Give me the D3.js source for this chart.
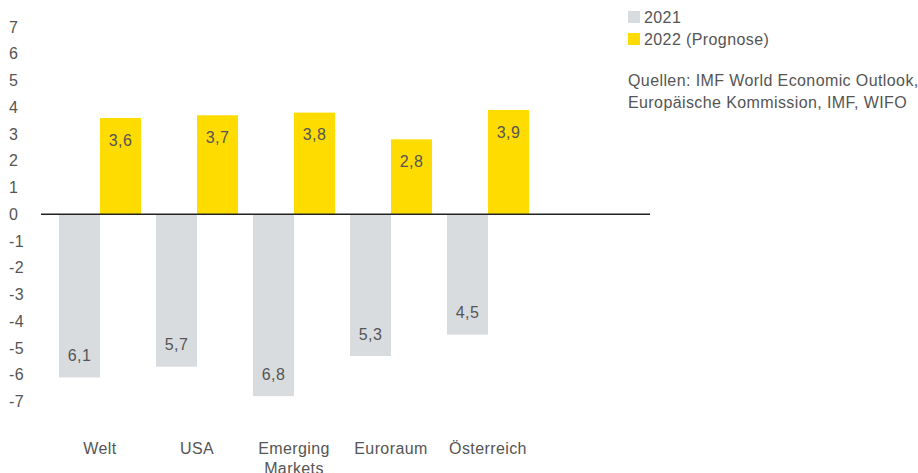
<!DOCTYPE html>
<html lang="de">
<head>
  <meta charset="UTF-8">
  <title>Wirtschaftswachstum 2021 / 2022</title>
  <script src="https://cdnjs.cloudflare.com/ajax/libs/d3/7.8.5/d3.min.js"></script>
  <style>
      body {
          margin: 0;
          background: #fff;
      }
      svg text {
          font-family: "Liberation Sans", Arial, sans-serif;
          font-size: 16px;
          letter-spacing: 0.4px;
          fill: #555;
      }
  </style>
</head>
<body>
<div id="chart"></div>

<script>
  // Data
  const categories = ["Welt", "USA", "Emerging Markets", "Euroraum", "Österreich"];
  const series = ["2021", "2022 (Prognose)"];
  const values2021 = [-6.1, -5.7, -6.8, -5.3, -4.5];
  const values2022 = [3.6, 3.7, 3.8, 2.8, 3.9];
  const yTicks = [7, 6, 5, 4, 3, 2, 1, 0, -1, -2, -3, -4, -5, -6, -7];
  const sourceLines = ["Quellen: IMF World Economic Outlook,", "Europäische Kommission, IMF, WIFO"];

  const width = 918;
  const height = 473;
  const colors = ["#d9dcdf", "#ffdc00"];

  const rows = categories.map((c, i) => ({ category: c, values: [values2021[i], values2022[i]] }));

  const svg = d3.select("#chart")
      .append("svg")
      .attr("width", width)
      .attr("height", height)
      .attr("viewBox", [0, 0, width, height]);

  const x = d3.scaleBand()
      .domain(categories)
      .range([51.5, 536.5])
      .paddingInner(0.155)
      .paddingOuter(0.0775);

  const xs = d3.scaleBand()
      .domain(d3.range(series.length))
      .range([0, x.bandwidth()]);

  const y = d3.scaleLinear([-7, 7], [401.5, 27]);

  const fmt = v => d3.format(".1f")(Math.abs(v)).replace(".", ",");

  // y axis labels
  const yAxis = d3.axisRight(y)
      .tickValues(yTicks)
      .tickFormat(d => String(d))
      .tickSize(0)
      .tickPadding(0);

  svg.append("g")
      .attr("transform", "translate(9,0)")
      .call(yAxis)
      .call(g => g.select(".domain").remove())
      .call(g => g.attr("font-size", null).attr("font-family", null))
      .call(g => g.selectAll("text").attr("fill", null));

  // bars
  const group = svg.append("g")
      .selectAll("g")
      .data(rows)
      .join("g")
      .attr("transform", d => `translate(${x(d.category)},0)`);

  group.selectAll("rect")
      .data(d => d.values.map((v, i) => ({ v, i })))
      .join("rect")
      .attr("x", d => xs(d.i))
      .attr("width", xs.bandwidth())
      .attr("y", d => y(Math.max(0, d.v)))
      .attr("height", d => Math.abs(y(d.v) - y(0)))
      .attr("fill", d => colors[d.i]);

  group.selectAll("text.val")
      .data(d => d.values.map((v, i) => ({ v, i })))
      .join("text")
      .attr("class", "val")
      .attr("x", d => xs(d.i) + xs.bandwidth() / 2)
      .attr("y", d => d.v >= 0 ? y(d.v) + 22 : y(d.v) - 22)
      .attr("dy", "0.35em")
      .attr("text-anchor", "middle")
      .text(d => fmt(d.v));

  // zero line
  svg.append("line")
      .attr("x1", 41)
      .attr("x2", 650)
      .attr("y1", y(0))
      .attr("y2", y(0))
      .attr("stroke", "#222")
      .attr("stroke-width", 1.5);

  // category labels
  const catLabels = svg.append("g")
      .selectAll("text")
      .data(categories)
      .join("text")
      .attr("x", d => x(d) + x.bandwidth() / 2)
      .attr("y", 448)
      .attr("text-anchor", "middle");

  catLabels.each(function (d) {
    const t = d3.select(this);
    d.split(" ").forEach((w, i) => {
      t.append("tspan")
          .attr("x", x(d) + x.bandwidth() / 2)
          .attr("dy", i === 0 ? "0.35em" : "1.3em")
          .text(w);
    });
  });

  // legend
  const legend = svg.append("g")
      .attr("transform", "translate(628,11)");

  series.forEach((s, i) => {
    legend.append("rect")
        .attr("x", 0)
        .attr("y", i * 22)
        .attr("width", 12)
        .attr("height", 12)
        .attr("fill", colors[i]);
    legend.append("text")
        .attr("x", 16)
        .attr("y", i * 22 + 6)
        .attr("dy", "0.35em")
        .text(s);
  });

  // sources
  svg.append("g")
      .selectAll("text")
      .data(sourceLines)
      .join("text")
      .attr("x", 628)
      .attr("y", (d, i) => 80 + i * 22)
      .attr("dy", "0.35em")
      .text(d => d);
</script>
</body>
</html>
